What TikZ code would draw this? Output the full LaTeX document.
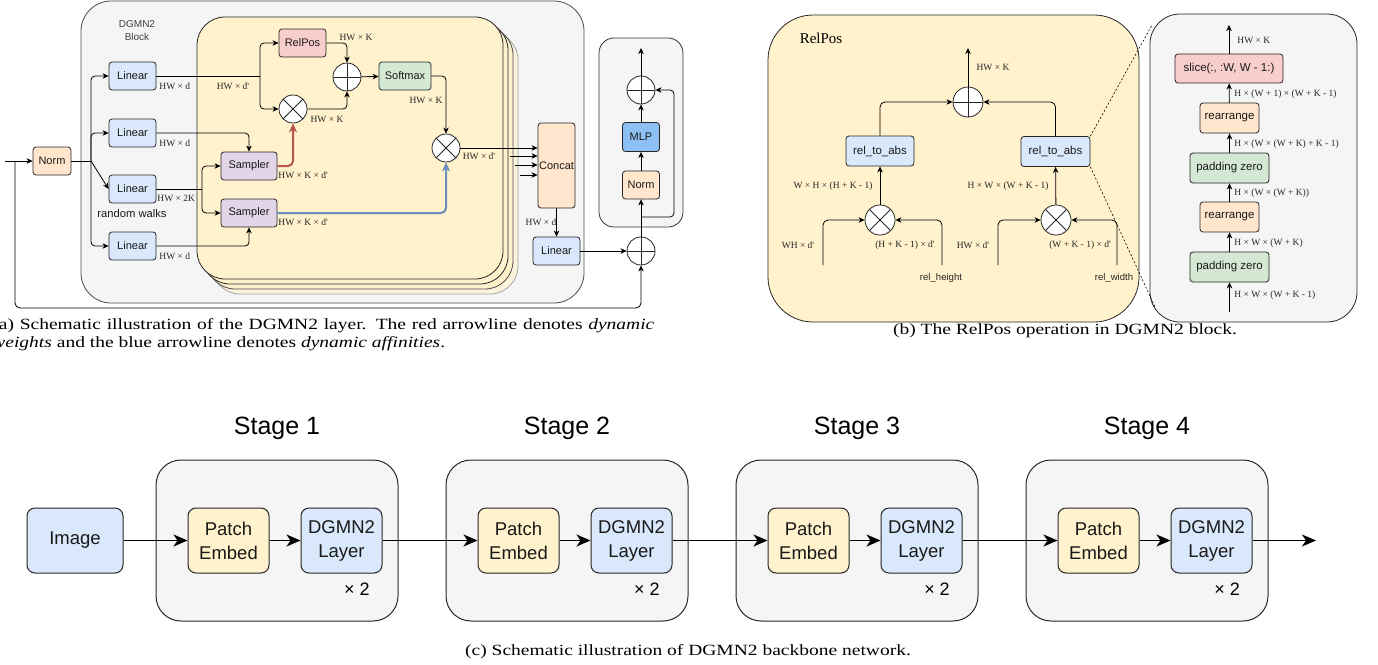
\documentclass[tikz,border=0pt]{standalone}
\usepackage{fontspec}
\setmainfont{Liberation Serif}
\setsansfont{Liberation Sans}
\newfontfamily\capfont[FakeStretch=1.25]{Liberation Serif}
\usetikzlibrary{arrows.meta}

\definecolor{cblue}{HTML}{DAE8FC}
\definecolor{corange}{HTML}{FFE6CC}
\definecolor{cgreen}{HTML}{D5E8D4}
\definecolor{cpink}{HTML}{F8CECC}
\definecolor{cpurple}{HTML}{E1D5E7}
\definecolor{cyellow}{HTML}{FFF2CC}
\definecolor{cgray}{HTML}{F5F5F5}
\definecolor{cmlp}{HTML}{8DC1F5}
\definecolor{cred}{HTML}{B85450}
\definecolor{cblueline}{HTML}{6C8EBF}
\definecolor{cedge}{HTML}{262626}

\tikzset{
  arr/.style={-{Stealth[length=6pt,width=5.5pt,inset=1.8pt]}},
  redarr/.style={draw=cred,line width=2pt,-{Stealth[length=9pt,width=8pt,inset=2.5pt]}},
  bluearr/.style={draw=cblueline,line width=2pt,-{Stealth[length=9pt,width=8pt,inset=2.5pt]}},
  bigarr/.style={line width=1.3pt,-{Stealth[length=14pt,width=12pt,inset=4pt]}},
  op/.style={draw=cedge,line width=0.8pt,rounded corners=3pt,inner sep=0pt,text=black!90,
    font=\sffamily\fontsize{11}{13}\selectfont},
  oplin/.style={op,fill=cblue,minimum width=47pt,minimum height=28pt},
  opnorm/.style={op,fill=corange,minimum width=38pt,minimum height=28pt},
  opsamp/.style={op,fill=cpurple,minimum width=56pt,minimum height=28pt},
  opb/.style={op,font=\sffamily\fontsize{11.5}{13}\selectfont,minimum height=30pt},
  bigbox/.style={op,font=\sffamily\fontsize{18.5}{24}\selectfont,align=center,
    minimum width=81pt,minimum height=65pt,rounded corners=8pt,line width=1pt},
  stagebox/.style={draw=cedge,fill=cgray,line width=1pt,rounded corners=25pt,
    minimum width=242pt,minimum height=161pt},
  dim/.style={font=\fontsize{9.5}{11}\selectfont,text=black!85,inner sep=1pt},
  note/.style={font=\sffamily\fontsize{9.6}{11}\selectfont,text=black!85,inner sep=1pt},
  caption/.style={font=\capfont\fontsize{15.6}{18}\selectfont,inner sep=0pt},
  plusop/.style={circle,draw=cedge,fill=white,line width=0.8pt,minimum size=28pt,inner sep=0pt,
    path picture={\draw[line width=0.8pt] (path picture bounding box.north) -- (path picture bounding box.south)
      (path picture bounding box.west) -- (path picture bounding box.east);}},
  mulop/.style={circle,draw=cedge,fill=white,line width=0.8pt,minimum size=28pt,inner sep=0pt,
    path picture={\draw[line width=0.8pt] (path picture bounding box.north west) -- (path picture bounding box.south east)
      (path picture bounding box.north east) -- (path picture bounding box.south west);}},
}

\begin{document}
\begin{tikzpicture}[x=1pt,y=-1pt,line width=0.8pt]
  \useasboundingbox (0,0) rectangle (1378,664);
  \clip (0,0) rectangle (1378,664);

  %% ---------------- (a) DGMN2 layer ----------------
  %block backgrounds
  \draw[draw=black!70,fill=cgray,rounded corners=30pt] (81,1) rectangle (584,303);
  \foreach \k/\fc/\dc in {3/cyellow!60!cgray/black!35,2/cyellow/black!70,1/cyellow/black!85,0/cyellow/cedge}
    \draw[draw=\dc,fill=\fc,rounded corners=28pt] (197+5*\k,17+5*\k) rectangle (503+5*\k,279+5*\k);
  \node[align=center,font=\sffamily\fontsize{10}{13}\selectfont,text=black!75] (blocktitle) at (137,31) {DGMN2\\Block};
  \draw[draw=black!80,fill=cgray,rounded corners=15pt] (599,38) rectangle (683,227);

  %operators
  \node[opnorm] (norm) at (52,161) {Norm};
  \foreach \n/\y in {1/76,2/133,3/189,4/246}
    \node[oplin] (lin\n) at (132.5,\y) {Linear};
  \node[op,fill=cpink,minimum width=47pt,minimum height=28pt] (relpos) at (302.5,43) {RelPos};
  \node[plusop] (plusa) at (347,77) {};
  \node[mulop] (mula) at (293,109) {};
  \node[op,fill=cgreen,minimum width=52pt,minimum height=28pt] (softmax) at (405,76) {Softmax};
  \node[mulop] (mulb) at (446,148) {};
  \node[opsamp] (sampa) at (249,166) {Sampler};
  \node[opsamp] (sampb) at (249,213) {Sampler};
  \node[op,fill=corange,minimum width=37pt,minimum height=85pt] (concat) at (556.5,165.5) {Concat};
  \node[oplin] (linout) at (556.5,251) {Linear};
  \node[plusop] (plusres) at (641,251) {};
  \node[op,fill=corange,minimum width=37pt,minimum height=28pt] (normb) at (641,185) {Norm};
  \node[op,fill=cmlp,minimum width=37pt,minimum height=29pt] (mlp) at (641,137) {MLP};
  \node[plusop] (plusmlp) at (641,90) {};
  \coordinate (in) at (5,161);
  \coordinate (skip) at (15,161);
  \coordinate (fork) at (91,161);
  \coordinate (qsplit) at (260,76);
  \coordinate (wsplit) at (202,189);
  \coordinate (mlpout) at (641,48);
  \coordinate (mlpskip) at (641,217);

  %input, skip and the four projections
  \draw[arr] (in) -- (norm);
  \draw[arr,rounded corners=5pt] (skip) -- (15,308) -| (plusres.south);
  \draw (norm.east) -- (fork);
  \foreach \n in {1,2,4}
    \draw[arr,rounded corners=4pt] (fork) |- (lin\n.west);
  \draw[arr] (fork) -- (lin3.west);
  \node[dim,anchor=west] at (158,86) {HW × d};
  \node[dim,anchor=west] at (158,143) {HW × d};
  \node[dim,anchor=west] at (156,198) {HW × 2K};
  \node[dim,anchor=west] at (158,256) {HW × d};
  \node[font=\sffamily\fontsize{11.2}{13}\selectfont,text=black!90] at (132,213) {random walks};

  %attention branch
  \draw (lin1.east) -- (qsplit);
  \draw[arr,rounded corners=4pt] (qsplit) |- (relpos.west);
  \draw[arr,rounded corners=4pt] (qsplit) |- (mula.west);
  \node[dim] at (233,86) {HW × d\textquotesingle};
  \draw[arr,rounded corners=4pt] (relpos.east) -| (plusa.north);
  \node[dim] at (356,37) {HW × K};
  \draw[arr,rounded corners=4pt] (mula.east) -| (plusa.south);
  \node[dim] at (327,119) {HW × K};
  \draw[arr] (plusa) -- (softmax);
  \draw[arr,rounded corners=4pt] (softmax.east) -| (mulb.north);
  \node[dim] at (426,100) {HW × K};

  %sampling
  \draw[arr,rounded corners=4pt] (lin2.east) -| (sampa.north);
  \draw[arr,rounded corners=4pt] (lin4.east) -| (sampb.south);
  \draw (lin3.east) -- (wsplit);
  \draw[arr,rounded corners=4pt] (wsplit) |- (sampa.west);
  \draw[arr,rounded corners=4pt] (wsplit) |- (sampb.west);
  \draw[redarr,rounded corners=5pt] (sampa.east) -| (mula.south);
  \node[dim,anchor=west] at (277,175) {HW × K × d\textquotesingle};
  \draw[bluearr,rounded corners=5pt] (sampb.east) -| (mulb.south);
  \node[dim,anchor=west] at (277,222) {HW × K × d\textquotesingle};

  %heads merge
  \draw[arr] (mulb.east) -- (concat.west |- mulb);
  \node[dim] at (479,156) {HW × d\textquotesingle};
  \foreach \x/\y in {510/156,515/165,520/175}
    \draw[arr] (\x,\y) -- (concat.west |- 0,\y);
  \draw[arr] (concat) -- (linout);
  \node[dim] at (541,222) {HW × d};
  \draw[arr] (linout) -- (plusres);

  %MLP block
  \draw[arr] (plusres) -- (normb);
  \draw[arr] (normb) -- (mlp);
  \draw[arr] (mlp) -- (plusmlp);
  \draw[arr] (plusmlp) -- (mlpout);
  \draw[arr,rounded corners=4pt] (mlpskip) -- (674,217) -- (674,90) -- (plusmlp.east);

  \node[caption,text width=662pt,align=justify,anchor=north west] (capa) at (-8,318)
    {(a) Schematic illustration of the DGMN2 layer. The red arrowline denotes \textit{dynamic}\linebreak
     \textit{weights} and the blue arrowline denotes \textit{dynamic affinities}.};

  %% ---------------- (b) RelPos ----------------
  \draw[draw=cedge,fill=cyellow,rounded corners=45pt] (768,15) rectangle (1139,322);
  \draw[draw=cedge,fill=cgray,rounded corners=30pt] (1150,14) rectangle (1357,322);
  \node[font=\fontsize{15}{17}\selectfont] (reltitle) at (821,38) {RelPos};

  \node[plusop,minimum size=30pt] (plusb) at (968,102) {};
  \node[opb,fill=cblue,minimum width=68pt] (rtaa) at (880,151) {rel\_to\_abs};
  \node[opb,fill=cblue,minimum width=69pt] (rtab) at (1055.5,151.5) {rel\_to\_abs};
  \node[mulop,minimum size=30pt] (mulh) at (880,220) {};
  \node[mulop,minimum size=30pt] (mulw) at (1056,220) {};
  \coordinate (relout) at (968,48);

  \draw[arr] (plusb) -- (relout);
  \node[dim] at (993,67) {HW × K};
  \draw[arr,rounded corners=5pt] (rtaa.north) |- (plusb.west);
  \draw[arr,rounded corners=5pt] (rtab.north) |- (plusb.east);
  \draw[arr] (mulh) -- (rtaa);
  \draw[arr] (mulw) -- (rtab);
  \node[dim] at (833,186) {W × H × (H + K - 1)};
  \node[dim] at (1008,186) {H × W × (W + K - 1)};

  %height and width terms
  \draw[arr,rounded corners=5pt] (823,265) |- (mulh.west);
  \draw[arr,rounded corners=5pt] (942,265) |- (mulh.east);
  \draw[arr,rounded corners=5pt] (998,265) |- (mulw.west);
  \draw[arr,rounded corners=5pt] (1117,265) |- (mulw.east);
  \node[dim] at (798,245) {WH × d\textquotesingle};
  \node[dim] at (905,245) {(H + K - 1) × d\textquotesingle};
  \node[dim] at (973,245) {HW × d\textquotesingle};
  \node[dim] at (1080,245) {(W + K - 1) × d\textquotesingle};
  \node[note] at (941,278) {rel\_height};
  \node[note] at (1114,278) {rel\_width};

  %rel_to_abs steps
  \node[opb,fill=cpink,minimum width=108pt,minimum height=29pt] (slice) at (1229,68.5) {slice(:, :W, W - 1:)};
  \node[opb,fill=corange,minimum width=59pt] (reara) at (1229.5,118) {rearrange};
  \node[opb,fill=cgreen,minimum width=79pt] (pada) at (1229.5,168) {padding zero};
  \node[opb,fill=corange,minimum width=59pt] (rearb) at (1229.5,217) {rearrange};
  \node[opb,fill=cgreen,minimum width=79pt] (padb) at (1229.5,267) {padding zero};
  \coordinate (stepin) at (1229.5,312);
  \coordinate (stepout) at (1229,25);
  \draw[dash pattern=on 2pt off 2pt,line width=0.6pt] (rtab.north east) -- (1152,25);
  \draw[dash pattern=on 2pt off 2pt,line width=0.6pt] (rtab.south east) -- (1155,307);

  \draw[arr] (stepin) -- (padb);
  \draw[arr] (padb) -- (rearb);
  \draw[arr] (rearb) -- (pada);
  \draw[arr] (pada) -- (reara);
  \draw[arr] (reara) -- (slice);
  \draw[arr] (slice) -- (stepout);
  \node[dim,anchor=west] at (1233,295) {H × W × (W + K - 1)};
  \node[dim,anchor=west] at (1233,243) {H × W × (W + K)};
  \node[dim,anchor=west] at (1233,193) {H × (W × (W + K))};
  \node[dim,anchor=west] at (1233,144) {H × (W × (W + K) + K - 1)};
  \node[dim,anchor=west] at (1233,94) {H × (W + 1) × (W + K - 1)};
  \node[dim,anchor=west] at (1236,40) {HW × K};

  \node[caption] (capb) at (1065,331) {(b) The RelPos operation in DGMN2 block.};

  %% ---------------- (c) backbone ----------------
  \node[bigbox,fill=cblue,minimum width=96pt] (image) at (75,540.5) {Image};
  \foreach \i in {0,1,2,3} {
    \pgfmathsetmacro\sx{277+290*\i}
    \pgfmathtruncatemacro\num{\i+1}
    \node[stagebox] (stage\i) at (\sx,540.5) {};
    \node[font=\sffamily\fontsize{25}{30}\selectfont] (title\i) at (\sx,428) {Stage \num};
    \node[bigbox,fill=cyellow] (patch\i) at (\sx-48.5,540.5) {Patch\\Embed};
    \node[bigbox,fill=cblue] (layer\i) at (\sx+64.5,540.5) {DGMN2\\Layer};
    \node[font=\sffamily\fontsize{18}{20}\selectfont] (rep\i) at (\sx+80,589) {× 2};
  }
  \coordinate (netout) at (1316,540.5);

  \draw[bigarr] (image) -- (patch0);
  \foreach \i in {0,1,2,3}
    \draw[bigarr] (patch\i) -- (layer\i);
  \foreach \i/\j in {0/1,1/2,2/3}
    \draw[bigarr] (layer\i) -- (patch\j);
  \draw[bigarr] (layer3) -- (netout);

  \node[caption] (capc) at (688,652) {(c) Schematic illustration of DGMN2 backbone network.};
\end{tikzpicture}
\end{document}
